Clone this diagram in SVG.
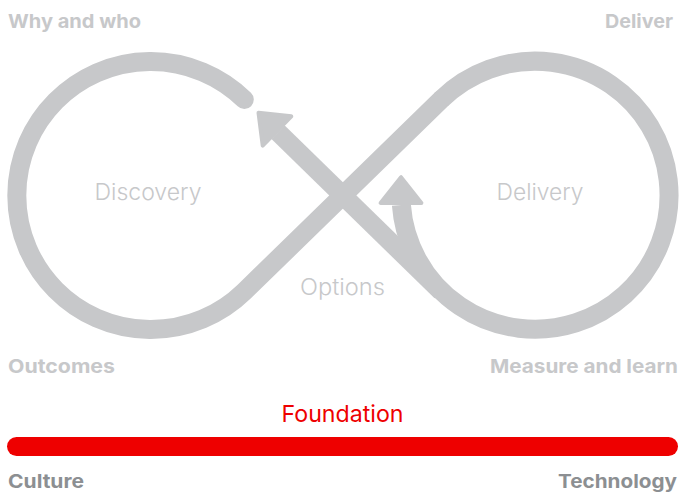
<svg xmlns="http://www.w3.org/2000/svg" width="681" height="494" viewBox="0 0 681 494">
  <style>
    text { font-family: Inter, "Liberation Sans", "Noto Sans", sans-serif; }
    .hdr { font-size: 19px; font-weight: 700; fill: #c7c8ca; }
    .base { font-size: 19px; font-weight: 700; fill: #8c8f92; }
    .phase { font-size: 23px; font-weight: 300; fill: #c7c8ca; }
    .found { font-size: 23px; font-weight: 400; fill: #ee0000; }
    .loop { fill: none; stroke: #c7c8ca; stroke-width: 19; }
    .head { fill: #c7c8ca; stroke: #c7c8ca; stroke-width: 4; stroke-linejoin: round; }
  </style>
  <g id="connectors">
    <path class="loop" stroke-linecap="round" d="M 244.3 99.5 A 134 134 0 1 0 244.3 291.5 L 441.2 99.5"/>
    <path class="loop" stroke-linecap="butt" d="M 441.2 99.5 A 134 134 0 1 1 401.4 205"/>
    <path class="loop" stroke-linecap="butt" d="M 441.2 291.5 L 278.1 132.2"/>
    <polygon class="head" points="258.5,112.7 291.3,116.3 262.7,145.6"/>
    <polygon class="head" points="401,177.2 380.6,203 421.4,203"/>
  </g>
  <g id="why-and-who"><text class="hdr" x="8" y="28" textLength="133" lengthAdjust="spacingAndGlyphs">Why and who</text></g>
  <g id="deliver"><text class="hdr" x="673" y="28" text-anchor="end" textLength="68" lengthAdjust="spacingAndGlyphs">Deliver</text></g>
  <g id="discovery"><text class="phase" x="148" y="200" text-anchor="middle" textLength="107" lengthAdjust="spacingAndGlyphs">Discovery</text></g>
  <g id="delivery"><text class="phase" x="540" y="200" text-anchor="middle" textLength="87" lengthAdjust="spacingAndGlyphs">Delivery</text></g>
  <g id="options"><text class="phase" x="342.5" y="295" text-anchor="middle" textLength="85" lengthAdjust="spacingAndGlyphs">Options</text></g>
  <g id="outcomes"><text class="hdr" x="8" y="372.5" textLength="107" lengthAdjust="spacingAndGlyphs">Outcomes</text></g>
  <g id="measure-and-learn"><text class="hdr" x="678" y="372.5" text-anchor="end" textLength="188" lengthAdjust="spacingAndGlyphs">Measure and learn</text></g>
  <g id="foundation">
    <text class="found" x="342.5" y="422" text-anchor="middle" textLength="122" lengthAdjust="spacingAndGlyphs">Foundation</text>
    <rect x="7" y="437" width="671" height="19" rx="9.5" fill="#ee0000"/>
  </g>
  <g id="culture"><text class="base" x="8" y="487.5" textLength="76" lengthAdjust="spacingAndGlyphs">Culture</text></g>
  <g id="technology"><text class="base" x="677" y="487.5" text-anchor="end" textLength="119" lengthAdjust="spacingAndGlyphs">Technology</text></g>
</svg>
